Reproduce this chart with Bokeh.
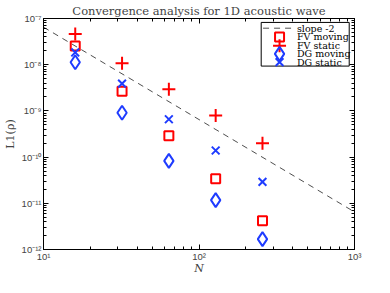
from bokeh.plotting import figure
from bokeh.models import FixedTicker, LogAxis, Range1d, LinearScale
from bokeh.core.properties import value
from bokeh.embed import file_html
from bokeh.resources import INLINE

# data
N = [16, 32, 64, 128, 256]
fv_moving = [2.55e-8, 2.65e-9, 2.9e-10, 3.4e-11, 4.2e-12]
fv_static = [4.6e-8, 1.08e-8, 2.95e-9, 8.0e-10, 2.0e-10]
dg_moving = [1.13e-8, 9.1e-10, 8.3e-11, 1.17e-11, 1.68e-12]
dg_static = [1.84e-8, 3.9e-9, 6.6e-10, 1.39e-10, 2.9e-11]
slope_N = [10, 1000]
slope_val = [6.5e-8, 6.5e-12]

legend_labels = ["slope -2", "FV moving", "FV static", "DG moving", "DG static"]

x_major = [10, 100, 1000]
x_labels = {10: "10¹", 100: "10²", 1000: "10³"}
y_major = [1e-12, 1e-11, 1e-10, 1e-9, 1e-8, 1e-7]
y_labels = {1e-12: "10⁻¹²", 1e-11: "10⁻¹¹", 1e-10: "10⁻¹⁰",
            1e-9: "10⁻⁹", 1e-8: "10⁻⁸", 1e-7: "10⁻⁷"}

x_minor = [m * 10 ** k for k in (1, 2) for m in range(2, 10)]
y_minor = [m * 10.0 ** k for k in range(-12, -7) for m in range(2, 10)]

RED = "#ff0000"
BLUE = "#1f3cff"
SERIF = "DejaVu Serif"
SANS = "Liberation Sans"

p = figure(width=374, height=277, x_axis_type="log", y_axis_type="log",
           x_range=Range1d(10, 1000), y_range=Range1d(1e-12, 1e-7),
           output_backend="svg", toolbar_location=None,
           min_border_left=43, min_border_right=20, min_border_top=2, min_border_bottom=0,
           title="Convergence analysis for 1D acoustic wave")
p.title.align = "center"
p.title.text_font = SERIF
p.title.text_font_size = "11.5px"
p.title.text_font_style = "normal"
p.title.standoff = 2
p.title.offset = 0
p.grid.visible = False
p.outline_line_color = "black"
p.outline_line_width = 1
p.background_fill_color = "white"
p.border_fill_color = "white"

# axes-fraction coordinate system for the legend box
p.extra_x_ranges = {"fx": Range1d(0, 1)}
p.extra_y_ranges = {"fy": Range1d(0, 1)}
p.extra_x_scales = {"fx": LinearScale()}
p.extra_y_scales = {"fy": LinearScale()}

xt = FixedTicker(ticks=x_major, minor_ticks=x_minor)
yt = FixedTicker(ticks=y_major, minor_ticks=y_minor)

for ax in p.xaxis:
    ax.ticker = xt
    ax.major_label_overrides = x_labels
    ax.axis_label = "N"
    ax.axis_label_text_font_style = "italic"
    ax.axis_label_text_font = SERIF
    ax.axis_label_text_font_size = "11px"
    ax.axis_label_standoff = -3
    ax.major_label_standoff = 1
for ax in p.yaxis:
    ax.ticker = yt
    ax.major_label_overrides = y_labels
    ax.axis_label = "L1(ρ)"
    ax.axis_label_text_font_style = "normal"
    ax.axis_label_text_font = SERIF
    ax.axis_label_text_font_size = "11px"
    ax.axis_label_standoff = 2
    ax.major_label_standoff = 2

for ax in list(p.xaxis) + list(p.yaxis):
    ax.major_label_text_font = SANS
    ax.major_label_text_font_size = "9.5px"
    ax.major_tick_in = 5
    ax.major_tick_out = 0
    ax.minor_tick_in = 3
    ax.minor_tick_out = 0
    ax.axis_line_color = "black"

# mirrored axes (ticks only)
top = LogAxis(ticker=xt, major_label_text_color=None, major_label_text_font_size="1px",
              major_tick_in=5, major_tick_out=0,
              minor_tick_in=3, minor_tick_out=0, major_label_standoff=0)
right = LogAxis(ticker=yt, major_label_text_color=None, major_label_text_font_size="1px",
                major_tick_in=5, major_tick_out=0,
                minor_tick_in=3, minor_tick_out=0, major_label_standoff=0)
p.add_layout(top, "above")
p.add_layout(right, "right")

p.line(slope_N, slope_val, line_color="#222222", line_width=0.8, line_dash="6 5")
p.scatter(N, fv_moving, marker="square", size=9, fill_color=None,
          line_color=RED, line_width=2)
p.scatter(N, fv_static, marker="cross", size=13, line_color=RED, line_width=2)
p.scatter(N, dg_moving, marker="diamond", size=14, fill_color=None,
          line_color=BLUE, line_width=2)
p.scatter(N, dg_static, marker="x", size=11, line_color=BLUE, line_width=2)

# ---- legend (drawn in axes-fraction coordinates) ----
lx0, lx1, ly0, ly1 = 0.70, 0.983, 0.794, 0.983
rows = [0.958, 0.920, 0.882, 0.847, 0.811]
mx = 0.759
tx = 0.815
kw = dict(x_range_name="fx", y_range_name="fy")
p.quad(left=[lx0], right=[lx1], bottom=[ly0], top=[ly1], fill_color="white",
       line_color="black", line_width=1, **kw)
p.line([0.706, 0.812], [rows[0], rows[0]], line_color="#222222", line_width=0.8,
       line_dash="6 5", **kw)
p.scatter([mx], [rows[1]], marker="square", size=9, fill_color=None,
          line_color=RED, line_width=2, **kw)
p.scatter([mx], [rows[2]], marker="cross", size=13, line_color=RED, line_width=2, **kw)
p.scatter([mx], [rows[3]], marker="diamond", size=14, fill_color=None,
          line_color=BLUE, line_width=2, **kw)
p.scatter([mx], [rows[4]], marker="x", size=11, line_color=BLUE, line_width=2, **kw)
p.text(x=[tx] * 5, y=rows, text=legend_labels, text_font=value(SERIF),
       text_font_size="9.5px", text_baseline="middle", text_align="left",
       text_color="black", **kw)

open("out.html", "w").write(file_html(p, INLINE))
